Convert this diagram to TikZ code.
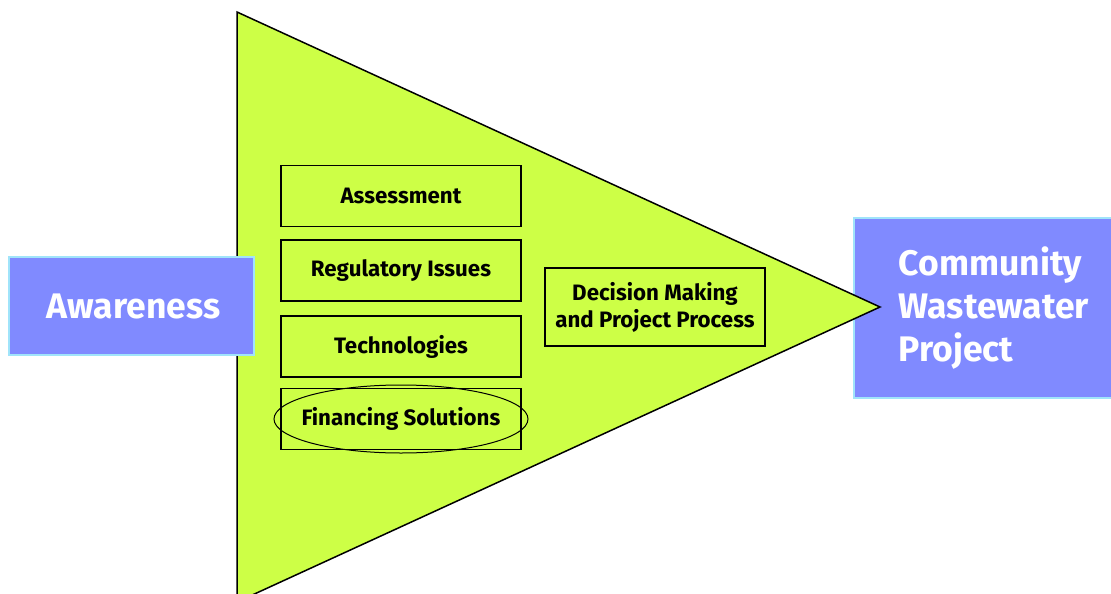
\documentclass[tikz,border=0pt]{standalone}
\usepackage{fontspec}
\setmainfont{Fira Sans}
\usepackage{tikz}
\usepackage{xcolor}
\usetikzlibrary{shapes}
\usetikzlibrary{positioning}

\definecolor{funnelgreen}{RGB}{205,255,70}
\definecolor{stageblue}{RGB}{128,138,255}
\definecolor{stageedge}{RGB}{160,228,250}

\begin{document}
\begin{tikzpicture}[x=1pt,y=-1pt]
	\tikzstyle{stage}=[rectangle,draw=stageedge,fill=stageblue,line width=1.5pt,text=white,font=\fontsize{35.5}{43}\selectfont\bfseries]
	\tikzstyle{topic}=[rectangle,draw=black,line width=1.4pt,minimum width=240pt,minimum height=61pt,font=\fontsize{22.3}{27}\selectfont\bfseries]

	\useasboundingbox (0,0) rectangle (1111,594);
	\clip (0,0) rectangle (1111,594);

	\node [stage,anchor=north west,minimum height=180pt,text width=230pt,inner xsep=45pt,align=left] (project) at (853,217) {Community\\Wastewater\\Project};

	% funnel
	\path[fill=funnelgreen,draw=black,line width=1.5pt] (237,12) -- (880,307) -- (237,602) -- cycle;

	\node [stage,minimum width=245pt,minimum height=98pt,text width=215pt,align=center,xshift=0pt] (aware) at (131.5,306) {\hspace*{4pt}Awareness};

	\node [topic] (assess) at (401,196) {Assessment};
	\node [topic] (regul) at (401,270.5) {Regulatory Issues};
	\node [topic] (tech) at (401,346.5) {Technologies};
	\node [topic] (finance) at (401,419) {Financing Solutions};
	\node [ellipse,draw=black,line width=1pt,minimum width=254pt,minimum height=68pt] (circled) at (finance.center) {};

	\node [topic,minimum width=220pt,minimum height=78pt,align=center] (decide) at (655,307) {Decision Making\\and Project Process};

\end{tikzpicture}
\end{document}
